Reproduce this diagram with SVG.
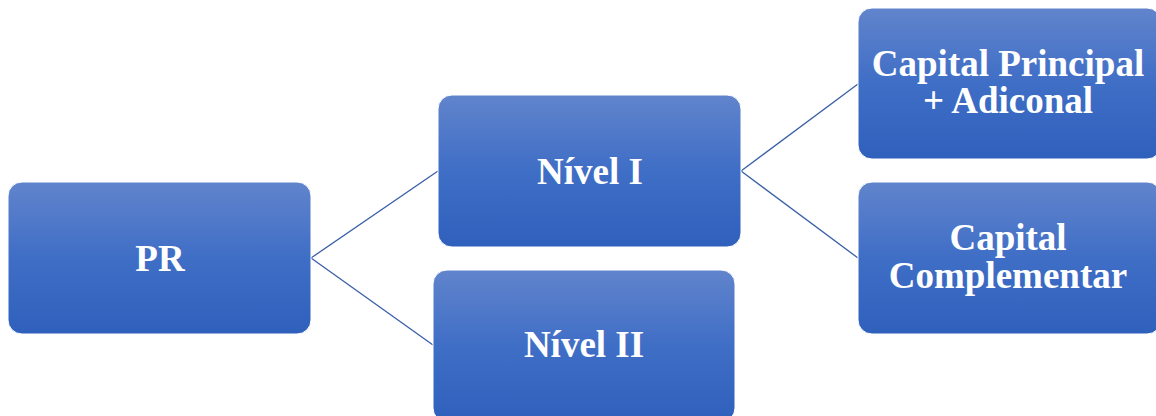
<svg xmlns="http://www.w3.org/2000/svg" width="1156" height="416" viewBox="0 0 1156 416">
<defs>
<linearGradient id="g" x1="0" y1="0" x2="0" y2="1">
<stop offset="0" stop-color="#6184cc"/>
<stop offset="0.5" stop-color="#3f6ec6"/>
<stop offset="1" stop-color="#2f60bc"/>
</linearGradient>
</defs>
<style>
.box{fill:url(#g);stroke:#ffffff;stroke-width:1}
.t{font-family:"Liberation Serif","Times New Roman",serif;font-weight:bold;font-size:37px;fill:#ffffff;text-anchor:middle}
.c{stroke:#3a5ea8;stroke-width:1.3;fill:none}
</style>
<rect width="1156" height="416" fill="#ffffff"/>
<g id="connectors">
<line class="c" x1="311" y1="258" x2="438" y2="171"/>
<line class="c" x1="311" y1="258" x2="433" y2="345"/>
<line class="c" x1="741" y1="171" x2="858" y2="84"/>
<line class="c" x1="741" y1="171" x2="858" y2="258"/>
</g>
<g id="pr">
<rect class="box" x="8" y="182" width="303" height="152" rx="14"/>
<text class="t" x="160" y="271">PR</text>
</g>
<g id="nivel1">
<rect class="box" x="438" y="95" width="303" height="152" rx="14"/>
<text class="t" x="590" y="184">Nível I</text>
</g>
<g id="nivel2">
<rect class="box" x="433" y="270" width="302" height="152" rx="14"/>
<text class="t" x="584" y="357">Nível II</text>
</g>
<g id="capital-principal">
<rect class="box" x="858" y="8" width="303" height="151" rx="14"/>
<text class="t" x="1008" y="76">Capital Principal</text>
<text class="t" x="1008" y="113">+ Adiconal</text>
</g>
<g id="capital-complementar">
<rect class="box" x="858" y="182" width="303" height="152" rx="14"/>
<text class="t" x="1008" y="250">Capital</text>
<text class="t" x="1008" y="288">Complementar</text>
</g>
</svg>
